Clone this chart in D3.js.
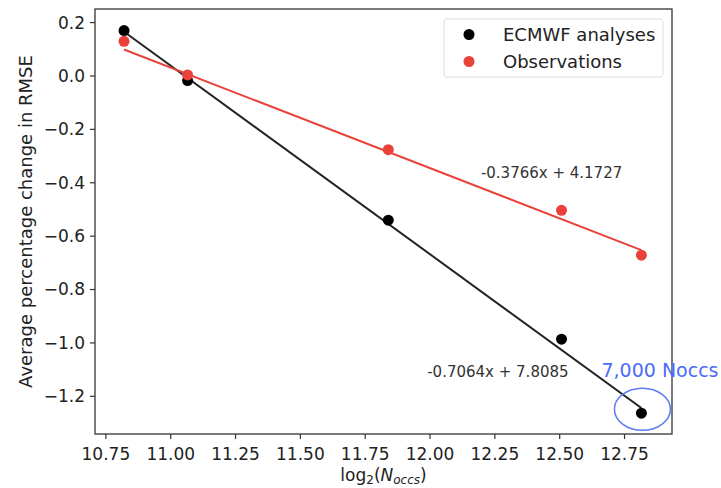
<!DOCTYPE html>
<html><head><meta charset="utf-8">
<script src="https://cdn.jsdelivr.net/npm/d3@7"></script>
<style>body{margin:0;background:#fff}svg{display:block}</style>
</head><body><div id="c"></div>
<script>
const logN = [10.822, 11.067, 11.841, 12.509, 12.817];
const ecmwf = [0.168, -0.019, -0.542, -0.988, -1.265];
const obs = [0.128, 0.002, -0.278, -0.505, -0.673];
const seriesNames = ["ECMWF analyses", "Observations"];
const fitSlopes = [-0.7064, -0.3766];
const fitIntercepts = [7.8085, 4.1727];
const fitLabels = ["-0.7064x + 7.8085", "-0.3766x + 4.1727"];
const fitLabelPos = [[11.991, -1.129], [12.198, -0.384]];
const xTicks = [10.75, 11.00, 11.25, 11.50, 11.75, 12.00, 12.25, 12.50, 12.75];
const yTicks = [0.2, 0.0, -0.2, -0.4, -0.6, -0.8, -1.0, -1.2];
const noteText = "7,000 Noccs";
const notePos = [12.663, -1.129];

const W = 721, H = 488;
const m = {l:95, t:9, r:672, b:434};
const colors = ["#000000", "#e8423a"];
const lineColors = ["#222222", "#e8423a"];
const font = "DejaVu Sans, sans-serif";

const svg = d3.select("#c").append("svg").attr("width", W).attr("height", H);
const x = d3.scaleLinear().domain([10.710, 12.935]).range([m.l, m.r]);
const y = d3.scaleLinear().domain([0.249, -1.343]).range([m.t, m.b]);

// fit lines
const series = [ecmwf, obs];
series.forEach((s, i) => {
  const x0 = d3.min(logN), x1 = d3.max(logN);
  svg.append("line")
    .attr("x1", x(x0)).attr("y1", y(fitSlopes[i]*x0 + fitIntercepts[i]))
    .attr("x2", x(x1)).attr("y2", y(fitSlopes[i]*x1 + fitIntercepts[i]))
    .attr("stroke", lineColors[i]).attr("stroke-width", 2);
});
series.forEach((s, i) => {
  svg.append("g").selectAll("circle").data(s).join("circle")
    .attr("cx", (d, j) => x(logN[j])).attr("cy", d => y(d))
    .attr("r", 5.5).attr("fill", colors[i]);
});

// axes
const fmtY = v => (v < 0 ? "\u2212" : "") + Math.abs(v).toFixed(1);
const xAxis = svg.append("g").attr("transform", `translate(0,${m.b})`)
  .call(d3.axisBottom(x).tickValues(xTicks).tickFormat(d3.format(".2f")).tickSize(5).tickPadding(6));
const yAxis = svg.append("g").attr("transform", `translate(${m.l},0)`)
  .call(d3.axisLeft(y).tickValues(yTicks).tickFormat(fmtY).tickSize(5).tickPadding(5));
[xAxis, yAxis].forEach(a => {
  a.select(".domain").remove();
  a.selectAll("line").attr("stroke", "#333").attr("stroke-width", 1.2);
  a.selectAll("text").attr("font-family", font).attr("font-size", 17).attr("fill", "#222");
});
xAxis.selectAll("text").attr("dy", "0.9em");
yAxis.selectAll("text").attr("dy", "0.35em");

svg.append("rect").attr("x", m.l).attr("y", m.t).attr("width", m.r - m.l).attr("height", m.b - m.t)
  .attr("fill", "none").attr("stroke", "#333").attr("stroke-width", 1.3);

// fit labels
fitLabels.forEach((t, i) => {
  svg.append("text").attr("x", x(fitLabelPos[i][0])).attr("y", y(fitLabelPos[i][1]))
    .attr("font-family", font).attr("font-size", 15).attr("fill", "#333").text(t);
});

// annotation
svg.append("ellipse").attr("cx", x(logN[4]) + 1).attr("cy", y(ecmwf[4]) - 4)
  .attr("rx", 28).attr("ry", 21).attr("fill", "none").attr("stroke", "#5b7cf5").attr("stroke-width", 1.5);
svg.append("text").attr("x", x(notePos[0])).attr("y", y(notePos[1]))
  .attr("font-family", font).attr("font-size", 19).attr("fill", "#4a6cf7").text(noteText);

// legend
const lg = svg.append("g").attr("transform", "translate(444,19)");
lg.append("rect").attr("width", 219).attr("height", 58).attr("rx", 3)
  .attr("fill", "#fff").attr("stroke", "#ddd").attr("stroke-width", 1);
seriesNames.forEach((n, i) => {
  lg.append("circle").attr("cx", 25).attr("cy", 15.5 + i*27).attr("r", 5.5).attr("fill", colors[i]);
  lg.append("text").attr("x", 59).attr("y", 15.5 + i*27).attr("dy", "0.35em")
    .attr("font-family", font).attr("font-size", 18).attr("fill", "#222").text(n);
});

// axis titles
svg.append("text").attr("transform", `translate(26,${(m.t+m.b)/2}) rotate(-90)`)
  .attr("text-anchor", "middle").attr("dy", "0.35em")
  .attr("font-family", font).attr("font-size", 18).attr("fill", "#222")
  .text("Average percentage change in RMSE");
const xl = svg.append("text").attr("x", (m.l+m.r)/2).attr("y", 481)
  .attr("text-anchor", "middle").attr("font-family", font).attr("font-size", 17).attr("fill", "#222");
xl.append("tspan").text("log");
xl.append("tspan").attr("font-size", 12).attr("dy", 3).text("2");
xl.append("tspan").attr("dy", -3).text("(");
xl.append("tspan").attr("font-style", "italic").text("N");
xl.append("tspan").attr("font-style", "italic").attr("font-size", 12).attr("dy", 3).text("occs");
xl.append("tspan").attr("dy", -3).text(")");
</script></body></html>
